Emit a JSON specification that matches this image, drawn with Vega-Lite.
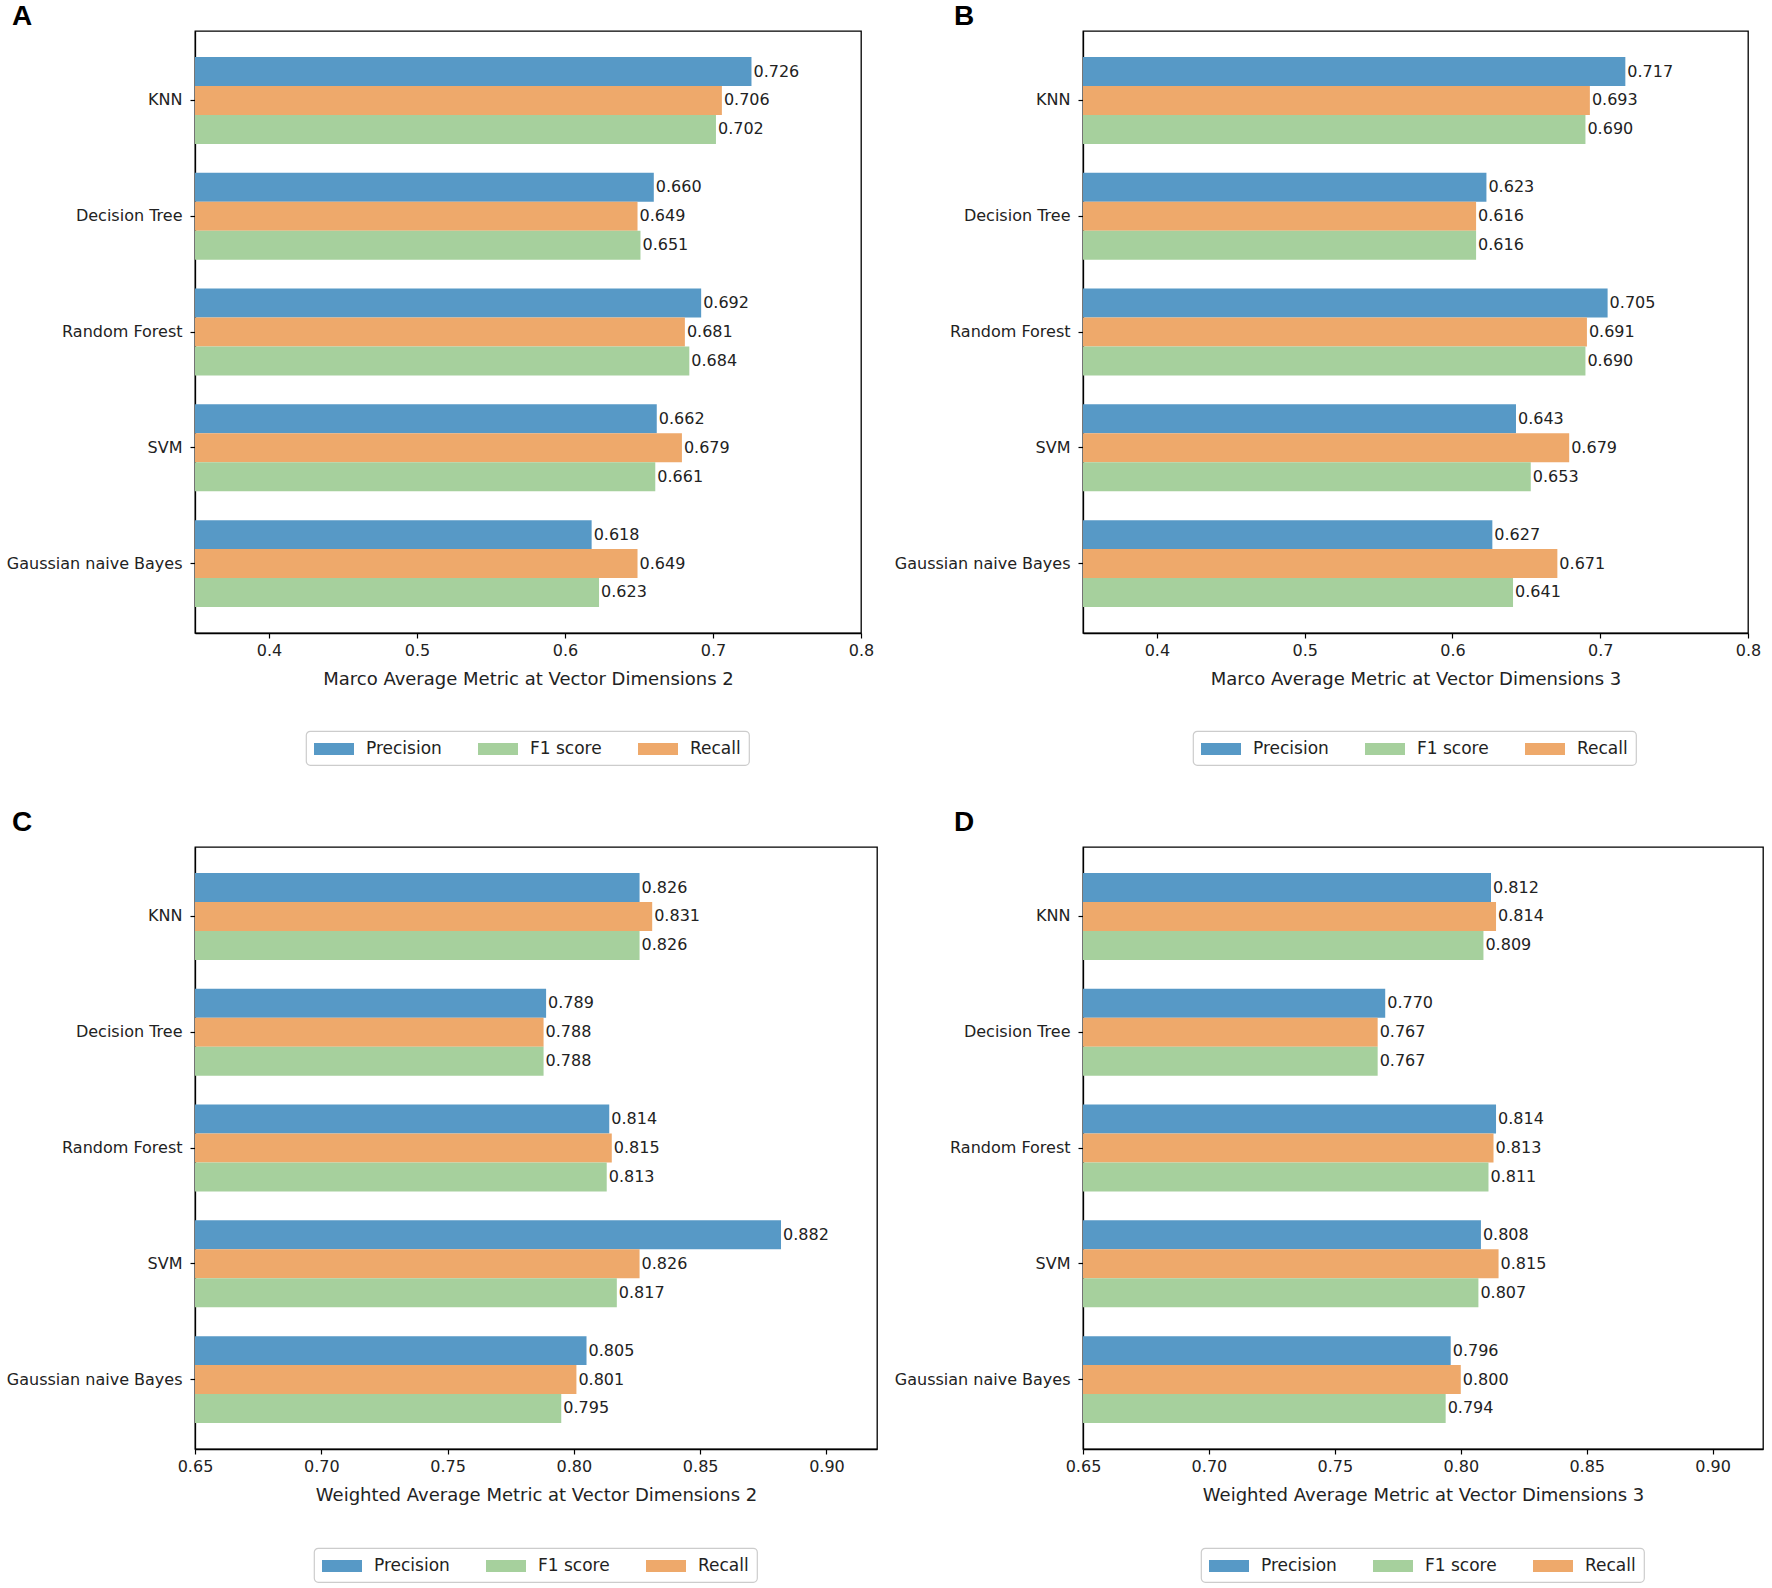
{
  "$schema": "https://vega.github.io/schema/vega-lite/v6.json",
  "padding": {"top": 2, "left": 4, "right": 0, "bottom": 0},
  "background": "white",
  "datasets": {
    "A": [
      {"model": "KNN", "metric": "Precision", "value": 0.726},
      {"model": "KNN", "metric": "Recall", "value": 0.706},
      {"model": "KNN", "metric": "F1 score", "value": 0.702},
      {"model": "Decision Tree", "metric": "Precision", "value": 0.660},
      {"model": "Decision Tree", "metric": "Recall", "value": 0.649},
      {"model": "Decision Tree", "metric": "F1 score", "value": 0.651},
      {"model": "Random Forest", "metric": "Precision", "value": 0.692},
      {"model": "Random Forest", "metric": "Recall", "value": 0.681},
      {"model": "Random Forest", "metric": "F1 score", "value": 0.684},
      {"model": "SVM", "metric": "Precision", "value": 0.662},
      {"model": "SVM", "metric": "Recall", "value": 0.679},
      {"model": "SVM", "metric": "F1 score", "value": 0.661},
      {"model": "Gaussian naive Bayes", "metric": "Precision", "value": 0.618},
      {"model": "Gaussian naive Bayes", "metric": "Recall", "value": 0.649},
      {"model": "Gaussian naive Bayes", "metric": "F1 score", "value": 0.623}
    ],
    "B": [
      {"model": "KNN", "metric": "Precision", "value": 0.717},
      {"model": "KNN", "metric": "Recall", "value": 0.693},
      {"model": "KNN", "metric": "F1 score", "value": 0.690},
      {"model": "Decision Tree", "metric": "Precision", "value": 0.623},
      {"model": "Decision Tree", "metric": "Recall", "value": 0.616},
      {"model": "Decision Tree", "metric": "F1 score", "value": 0.616},
      {"model": "Random Forest", "metric": "Precision", "value": 0.705},
      {"model": "Random Forest", "metric": "Recall", "value": 0.691},
      {"model": "Random Forest", "metric": "F1 score", "value": 0.690},
      {"model": "SVM", "metric": "Precision", "value": 0.643},
      {"model": "SVM", "metric": "Recall", "value": 0.679},
      {"model": "SVM", "metric": "F1 score", "value": 0.653},
      {"model": "Gaussian naive Bayes", "metric": "Precision", "value": 0.627},
      {"model": "Gaussian naive Bayes", "metric": "Recall", "value": 0.671},
      {"model": "Gaussian naive Bayes", "metric": "F1 score", "value": 0.641}
    ],
    "C": [
      {"model": "KNN", "metric": "Precision", "value": 0.826},
      {"model": "KNN", "metric": "Recall", "value": 0.831},
      {"model": "KNN", "metric": "F1 score", "value": 0.826},
      {"model": "Decision Tree", "metric": "Precision", "value": 0.789},
      {"model": "Decision Tree", "metric": "Recall", "value": 0.788},
      {"model": "Decision Tree", "metric": "F1 score", "value": 0.788},
      {"model": "Random Forest", "metric": "Precision", "value": 0.814},
      {"model": "Random Forest", "metric": "Recall", "value": 0.815},
      {"model": "Random Forest", "metric": "F1 score", "value": 0.813},
      {"model": "SVM", "metric": "Precision", "value": 0.882},
      {"model": "SVM", "metric": "Recall", "value": 0.826},
      {"model": "SVM", "metric": "F1 score", "value": 0.817},
      {"model": "Gaussian naive Bayes", "metric": "Precision", "value": 0.805},
      {"model": "Gaussian naive Bayes", "metric": "Recall", "value": 0.801},
      {"model": "Gaussian naive Bayes", "metric": "F1 score", "value": 0.795}
    ],
    "D": [
      {"model": "KNN", "metric": "Precision", "value": 0.812},
      {"model": "KNN", "metric": "Recall", "value": 0.814},
      {"model": "KNN", "metric": "F1 score", "value": 0.809},
      {"model": "Decision Tree", "metric": "Precision", "value": 0.770},
      {"model": "Decision Tree", "metric": "Recall", "value": 0.767},
      {"model": "Decision Tree", "metric": "F1 score", "value": 0.767},
      {"model": "Random Forest", "metric": "Precision", "value": 0.814},
      {"model": "Random Forest", "metric": "Recall", "value": 0.813},
      {"model": "Random Forest", "metric": "F1 score", "value": 0.811},
      {"model": "SVM", "metric": "Precision", "value": 0.808},
      {"model": "SVM", "metric": "Recall", "value": 0.815},
      {"model": "SVM", "metric": "F1 score", "value": 0.807},
      {"model": "Gaussian naive Bayes", "metric": "Precision", "value": 0.796},
      {"model": "Gaussian naive Bayes", "metric": "Recall", "value": 0.800},
      {"model": "Gaussian naive Bayes", "metric": "F1 score", "value": 0.794}
    ]
  },
  "spacing": 41,
  "resolve": {"scale": {"x": "independent", "y": "independent", "color": "independent"}, "legend": {"color": "independent"}},
  "vconcat": [
    {
      "spacing": 17,
      "resolve": {"scale": {"x": "independent", "y": "independent", "color": "independent"}, "legend": {"color": "independent"}},
      "hconcat": [
        {
          "width": 666, "height": 602,
          "data": {"name": "A"},
          "title": {"text": "A", "offset": 0, "dx": 7},
          "encoding": {
            "y": {"field": "model", "type": "nominal", "sort": ["KNN", "Decision Tree", "Random Forest", "SVM", "Gaussian naive Bayes"], "scale": {"paddingInner": 0.25, "paddingOuter": 0.225}, "axis": {"title": null}},
            "yOffset": {"field": "metric", "type": "nominal", "sort": ["Precision", "Recall", "F1 score"], "scale": {"paddingInner": 0, "paddingOuter": 0}},
            "x": {"field": "value", "type": "quantitative", "stack": null, "scale": {"domain": [0.35, 0.8], "zero": false, "nice": false}, "axis": {"values": [0.4, 0.5, 0.6, 0.7, 0.8], "format": ".1f", "title": "Marco Average Metric at Vector Dimensions 2"}}
          },
          "layer": [
            {"mark": {"type": "bar", "clip": true}, "encoding": {"color": {"field": "metric", "type": "nominal", "scale": {"domain": ["Precision", "F1 score", "Recall"], "range": ["#5799c6", "#a6d09d", "#eea96b"]}, "legend": {"title": null, "orient": "none", "legendX": 111, "legendY": 700}}}},
            {"mark": {"type": "text", "align": "left", "baseline": "middle", "dx": 2}, "encoding": {"text": {"field": "value", "type": "quantitative", "format": ".3f"}}}
          ]
        },
        {
          "width": 665, "height": 602,
          "data": {"name": "B"},
          "title": {"text": "B", "offset": 0, "dx": 61},
          "encoding": {
            "y": {"field": "model", "type": "nominal", "sort": ["KNN", "Decision Tree", "Random Forest", "SVM", "Gaussian naive Bayes"], "scale": {"paddingInner": 0.25, "paddingOuter": 0.225}, "axis": {"title": null}},
            "yOffset": {"field": "metric", "type": "nominal", "sort": ["Precision", "Recall", "F1 score"], "scale": {"paddingInner": 0, "paddingOuter": 0}},
            "x": {"field": "value", "type": "quantitative", "stack": null, "scale": {"domain": [0.35, 0.8], "zero": false, "nice": false}, "axis": {"values": [0.4, 0.5, 0.6, 0.7, 0.8], "format": ".1f", "title": "Marco Average Metric at Vector Dimensions 3"}}
          },
          "layer": [
            {"mark": {"type": "bar", "clip": true}, "encoding": {"color": {"field": "metric", "type": "nominal", "scale": {"domain": ["Precision", "F1 score", "Recall"], "range": ["#5799c6", "#a6d09d", "#eea96b"]}, "legend": {"title": null, "orient": "none", "legendX": 110, "legendY": 700}}}},
            {"mark": {"type": "text", "align": "left", "baseline": "middle", "dx": 2}, "encoding": {"text": {"field": "value", "type": "quantitative", "format": ".3f"}}}
          ]
        }
      ]
    },
    {
      "spacing": 14,
      "resolve": {"scale": {"x": "independent", "y": "independent", "color": "independent"}, "legend": {"color": "independent"}},
      "hconcat": [
        {
          "width": 682, "height": 602,
          "data": {"name": "C"},
          "title": {"text": "C", "offset": 10, "dx": 7},
          "encoding": {
            "y": {"field": "model", "type": "nominal", "sort": ["KNN", "Decision Tree", "Random Forest", "SVM", "Gaussian naive Bayes"], "scale": {"paddingInner": 0.25, "paddingOuter": 0.225}, "axis": {"title": null}},
            "yOffset": {"field": "metric", "type": "nominal", "sort": ["Precision", "Recall", "F1 score"], "scale": {"paddingInner": 0, "paddingOuter": 0}},
            "x": {"field": "value", "type": "quantitative", "stack": null, "scale": {"domain": [0.65, 0.92], "zero": false, "nice": false}, "axis": {"values": [0.65, 0.7, 0.75, 0.8, 0.85, 0.9], "format": ".2f", "title": "Weighted Average Metric at Vector Dimensions 2"}}
          },
          "layer": [
            {"mark": {"type": "bar", "clip": true}, "encoding": {"color": {"field": "metric", "type": "nominal", "scale": {"domain": ["Precision", "F1 score", "Recall"], "range": ["#5799c6", "#a6d09d", "#eea96b"]}, "legend": {"title": null, "orient": "none", "legendX": 119, "legendY": 701}}}},
            {"mark": {"type": "text", "align": "left", "baseline": "middle", "dx": 2}, "encoding": {"text": {"field": "value", "type": "quantitative", "format": ".3f"}}}
          ]
        },
        {
          "width": 680, "height": 602,
          "data": {"name": "D"},
          "title": {"text": "D", "offset": 10, "dx": 61},
          "encoding": {
            "y": {"field": "model", "type": "nominal", "sort": ["KNN", "Decision Tree", "Random Forest", "SVM", "Gaussian naive Bayes"], "scale": {"paddingInner": 0.25, "paddingOuter": 0.225}, "axis": {"title": null}},
            "yOffset": {"field": "metric", "type": "nominal", "sort": ["Precision", "Recall", "F1 score"], "scale": {"paddingInner": 0, "paddingOuter": 0}},
            "x": {"field": "value", "type": "quantitative", "stack": null, "scale": {"domain": [0.65, 0.92], "zero": false, "nice": false}, "axis": {"values": [0.65, 0.7, 0.75, 0.8, 0.85, 0.9], "format": ".2f", "title": "Weighted Average Metric at Vector Dimensions 3"}}
          },
          "layer": [
            {"mark": {"type": "bar", "clip": true}, "encoding": {"color": {"field": "metric", "type": "nominal", "scale": {"domain": ["Precision", "F1 score", "Recall"], "range": ["#5799c6", "#a6d09d", "#eea96b"]}, "legend": {"title": null, "orient": "none", "legendX": 118, "legendY": 701}}}},
            {"mark": {"type": "text", "align": "left", "baseline": "middle", "dx": 2}, "encoding": {"text": {"field": "value", "type": "quantitative", "format": ".3f"}}}
          ]
        }
      ]
    }
  ],
  "config": {
    "font": "DejaVu Sans",
    "view": {"stroke": "black", "strokeWidth": 1.3},
    "axis": {"grid": false, "labelFont": "DejaVu Sans", "labelFontSize": 16, "labelColor": "#222", "titleFont": "DejaVu Sans", "titleFontSize": 18, "titleFontWeight": "normal", "titleColor": "#222", "tickColor": "black", "tickSize": 5, "tickWidth": 1.2, "domainColor": "black", "domainWidth": 1.3, "labelPadding": 4, "titlePadding": 12, "labelFlush": false, "labelOverlap": false},
    "axisY": {"minExtent": 190, "maxExtent": 190, "labelPadding": 8},
    "axisX": {"labelAngle": 0},
    "title": {"anchor": "start", "frame": "bounds", "font": "Liberation Sans", "fontSize": 28, "fontWeight": "bold", "color": "black", "baseline": "alphabetic"},
    "text": {"font": "DejaVu Sans", "fontSize": 16, "color": "#222"},
    "legend": {"direction": "horizontal", "labelFont": "DejaVu Sans", "labelFontSize": 17, "labelColor": "#222", "symbolType": "M-2,-0.6L2,-0.6L2,0.6L-2,0.6Z", "symbolSize": 400, "symbolOffset": 10, "symbolStrokeWidth": 0, "symbolOpacity": 1, "labelOffset": 22, "columnPadding": 36, "strokeColor": "#cccccc", "strokeWidth": 1.2, "cornerRadius": 4, "padding": 8, "fillColor": "white"}
  }
}
